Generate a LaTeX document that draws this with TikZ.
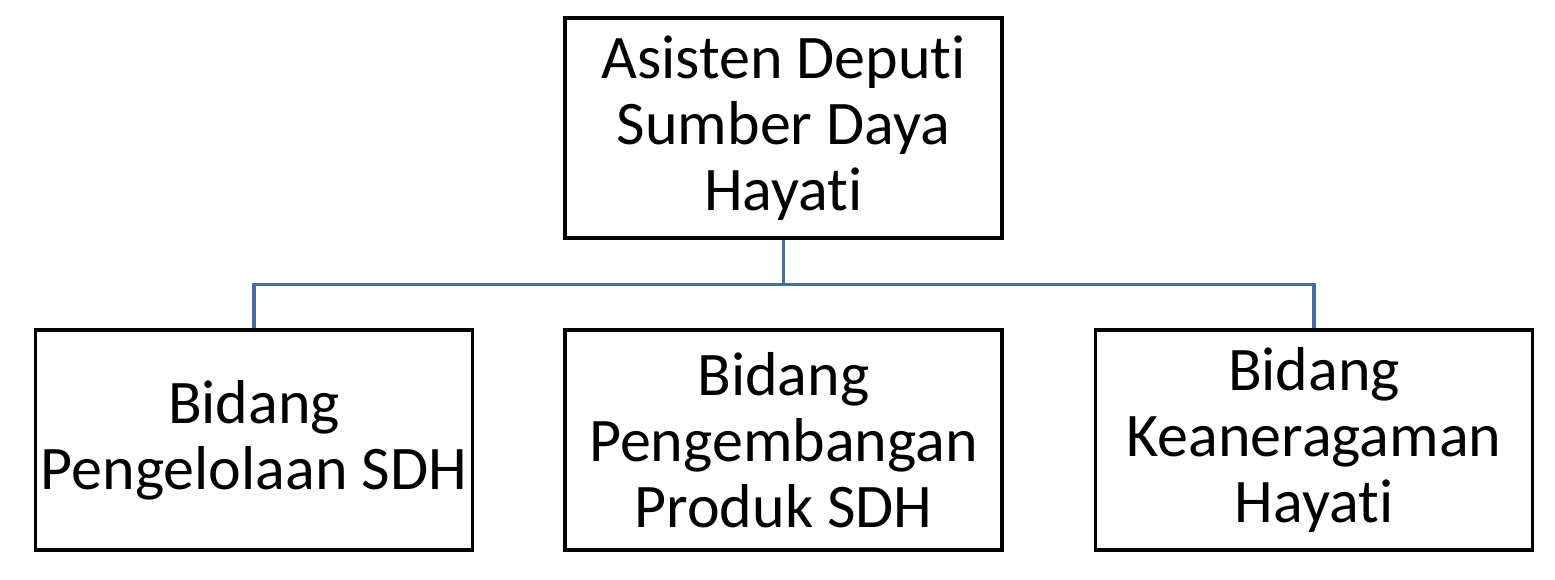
\documentclass[tikz,border=0pt]{standalone}
\usepackage{fontspec}
\setmainfont{Carlito}[Ligatures={NoCommon,TeX}]
\definecolor{conn}{RGB}{70,111,160}
\begin{document}
\begin{tikzpicture}[x=1pt,y=-1pt,
  box/.style={draw=black,line width=3.2pt,minimum width=437pt,minimum height=220pt,inner sep=0pt,
    align=center,font=\fontsize{62}{66}\selectfont},
  conn/.style={draw=conn,line width=3.2pt}]
\useasboundingbox (0,0) rectangle (1555,580);
\node[box] (top) at (783.5,128) {Asisten Deputi\\Sumber Daya\\Hayati};
\node[box] (l) at (254,440) {Bidang\\Pengelolaan SDH};
\node[box] (m) at (783.5,440) {Bidang\\Pengembangan\\Produk SDH};
\node[box] (r) at (1314,440) {Bidang\\Keaneragaman\\Hayati};
\coordinate (j) at (783.5,284.5);
\draw[conn] (top.south) -- (j);
\draw[conn] (l.north) |- (j) -| (r.north);
\end{tikzpicture}
\end{document}
